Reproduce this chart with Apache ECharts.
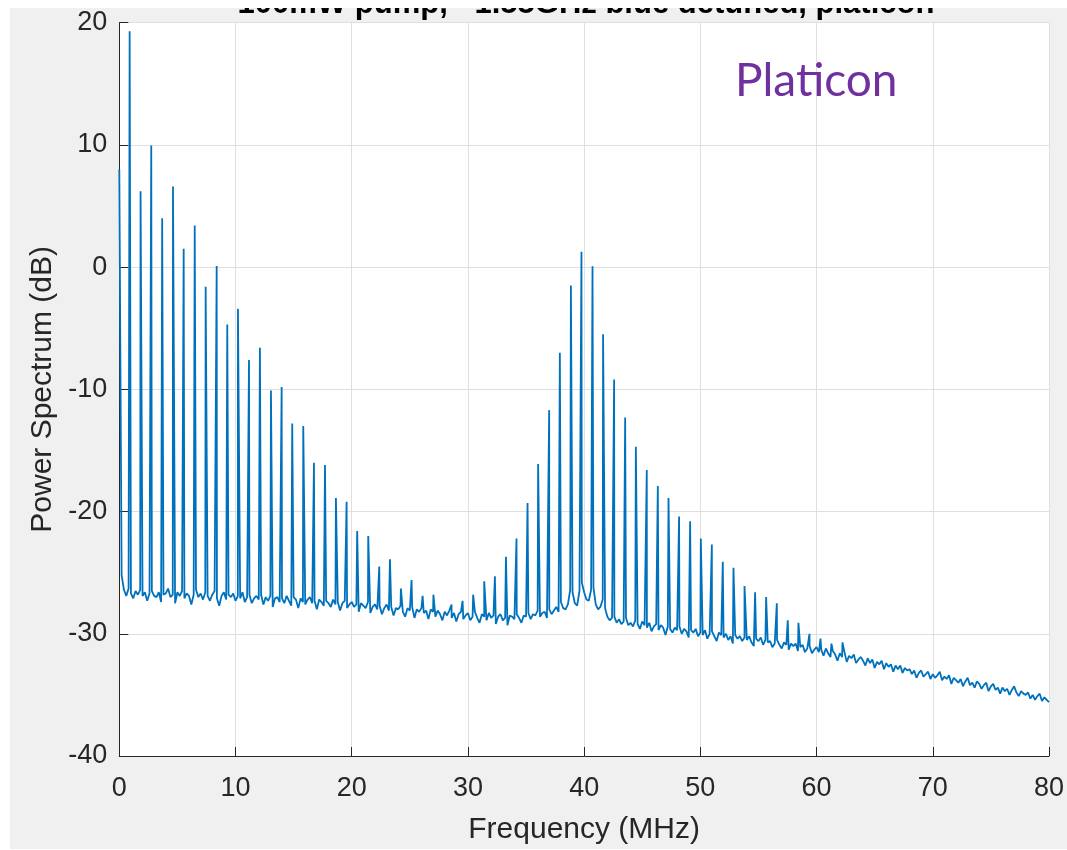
<!DOCTYPE html>
<html>
<head>
<meta charset="utf-8">
<title>Power Spectrum</title>
<script src="https://cdn.jsdelivr.net/npm/echarts@6/dist/echarts.min.js"></script>
<style>
  html, body { margin: 0; padding: 0; background: #ffffff; }
  #chart { width: 1067px; height: 850px; }
</style>
</head>
<body>
<div id="chart"></div>
<script>
// Frequency axis ticks (MHz) and power axis ticks (dB)
const freqTicks = [0, 10, 20, 30, 40, 50, 60, 70, 80];
const powerTicks = [-40, -30, -20, -10, 0, 10, 20];

// Noise floor sampled every 0.2 MHz from 0 to 80 MHz (dB)
const floorStep = 0.2;
const noiseFloor = [
  8.0, -25.2, -26.4, -26.9, -26.3, -26.7, -27.1, -26.5, -26.8, -26.4,
  -26.9, -26.6, -27.3, -26.7, -26.5, -26.9, -27.0, -26.6, -27.4, -26.8,
  -26.7, -26.3, -27.0, -26.8, -27.5, -26.6, -26.9, -26.5, -27.1, -26.7,
  -26.9, -27.6, -26.8, -26.4, -27.0, -26.7, -27.2, -26.6, -26.9, -27.3,
  -26.8, -26.5, -27.1, -27.7, -26.9, -26.6, -27.2, -26.8, -27.0, -26.7,
  -27.3, -26.9, -27.1, -26.6, -27.4, -27.0, -26.8, -27.5, -27.1, -26.9,
  -27.2, -26.8, -27.6, -27.0, -27.3, -26.9, -27.8, -27.1, -27.0, -27.4,
  -27.1, -27.5, -26.9, -27.3, -27.7, -27.0, -27.2, -27.9, -27.1, -27.4,
  -27.6, -27.2, -27.0, -27.5, -27.3, -28.0, -27.2, -27.4, -27.7, -27.3,
  -27.5, -27.8, -27.2, -27.6, -27.4, -28.1, -27.5, -27.3, -27.9, -27.6,
  -27.4, -27.8, -27.6, -28.2, -27.5, -27.7, -27.9, -27.4, -28.3, -27.8,
  -27.6, -28.0, -27.7, -28.4, -27.9, -27.6, -28.1, -27.8, -28.5, -27.9,
  -28.0, -27.7, -28.2, -28.6, -27.9, -28.1, -27.8, -28.7, -28.0, -28.2,
  -27.9, -28.3, -28.1, -28.8, -28.0, -28.2, -28.6, -28.1, -28.4, -28.9,
  -28.2, -28.5, -28.1, -28.7, -28.3, -29.0, -28.4, -28.2, -28.8, -28.5,
  -28.3, -28.9, -28.6, -28.2, -28.7, -29.1, -28.4, -28.6, -28.9, -28.3,
  -28.7, -28.5, -29.2, -28.6, -28.4, -28.9, -28.7, -29.3, -28.5, -28.6,
  -28.8, -28.4, -28.7, -29.1, -28.5, -28.6, -28.3, -28.8, -28.4, -28.5,
  -28.1, -28.6, -28.3, -28.2, -28.7, -28.0, -28.4, -28.1, -27.8, -28.2,
  -27.4, -27.9, -28.0, -27.6, -26.4, -26.6, -27.5, -27.7, -26.5, -25.8,
  -26.6, -27.2, -27.3, -26.4, -26.2, -27.6, -28.0, -27.8, -27.2, -27.9,
  -28.6, -28.9, -28.7, -28.6, -29.1, -28.8, -29.2, -29.0, -28.7, -29.3,
  -29.1, -29.4, -28.9, -29.2, -29.6, -29.0, -29.3, -29.5, -29.1, -29.8,
  -29.4, -29.2, -29.7, -29.3, -29.5, -30.1, -29.4, -29.6, -29.9, -29.5,
  -29.7, -29.4, -30.0, -29.6, -29.8, -30.3, -29.7, -29.9, -29.6, -30.2,
  -29.9, -30.1, -29.7, -30.4, -30.0, -29.8, -30.2, -30.6, -29.9, -30.1,
  -30.3, -30.0, -30.5, -30.2, -30.8, -30.1, -30.4, -30.2, -30.6, -30.3,
  -30.5, -30.2, -30.7, -31.0, -30.4, -30.6, -30.3, -30.9, -30.5, -30.7,
  -30.6, -31.1, -30.8, -30.5, -30.9, -31.2, -30.7, -30.9, -31.3, -30.8,
  -31.0, -30.8, -31.4, -31.1, -30.9, -31.5, -31.2, -31.0, -31.6, -31.3,
  -31.1, -31.5, -31.3, -31.8, -31.2, -31.6, -31.9, -31.4, -31.7, -32.2,
  -31.6, -31.9, -31.5, -32.3, -31.8, -32.0, -31.7, -32.4, -32.1, -31.9,
  -32.2, -32.6, -32.0, -32.4, -32.1, -32.8, -32.3, -32.5, -32.2, -32.9,
  -32.4, -32.7, -32.5, -33.1, -32.6, -32.9, -32.6, -33.2, -32.8, -33.0,
  -32.9, -33.3, -33.0, -33.6, -33.2, -33.0, -33.5, -33.3, -33.1, -33.7,
  -33.3, -33.6, -33.4, -33.1, -33.8, -33.5, -33.7, -33.4, -34.1, -33.6,
  -33.8, -34.0, -33.7, -34.3, -33.9, -33.6, -34.2, -34.0, -34.4, -33.9,
  -34.1, -34.5, -34.2, -34.0, -34.7, -34.3, -34.1, -34.6, -34.4, -34.9,
  -34.4, -34.7, -34.5, -35.0, -34.6, -34.3, -34.8, -35.1, -34.7, -34.9,
  -35.0, -34.8, -35.3, -35.0, -35.4, -35.1, -34.9, -35.5, -35.2, -35.4,
  -35.6
];

// Comb lines near the pump (MHz, dB)
const combLowFreq = [
  0.89, 1.83, 2.75, 3.69, 4.62, 5.54, 6.49, 7.43, 8.38, 9.29,
  10.21, 11.16, 12.10, 13.05, 13.97, 14.88, 15.83, 16.75, 17.70, 18.64,
  19.56, 20.47, 21.42, 22.37, 23.29, 24.23, 25.15, 26.10, 27.03
];
const combLowPower = [
  19.3, 6.2, 9.95, 4.0, 6.6, 1.5, 3.4, -1.6, 0.1, -4.7,
  -3.4, -7.6, -6.6, -10.1, -9.8, -12.8, -13.0, -16.0, -16.2, -18.9,
  -19.2, -21.6, -22.0, -24.5, -23.9, -26.3, -25.6, -26.9, -26.8
];

// Comb lines of the platicon band around 40 MHz (MHz, dB)
const combHighFreq = [
  28.59, 29.54, 30.45, 31.40, 32.32, 33.27, 34.18, 35.13, 36.04, 36.99,
  37.91, 38.86, 39.77, 40.72, 41.63, 42.58, 43.53, 44.45, 45.39, 46.34,
  47.26, 48.17, 49.12, 50.04, 50.99, 51.93, 52.85, 53.80, 54.71, 55.66,
  56.58, 57.52, 58.44, 59.39, 60.34, 61.28, 62.23
];
const combHighPower = [
  -27.6, -27.3, -26.8, -25.7, -25.3, -23.7, -22.2, -19.3, -16.1, -11.7,
  -7.0, -1.5, 1.25, 0.08, -5.5, -9.2, -12.3, -14.7, -16.6, -17.9,
  -18.9, -20.4, -20.8, -22.2, -22.7, -24.1, -24.6, -26.1, -26.6, -27.0,
  -27.5, -28.9, -29.1, -30.0, -30.4, -30.8, -30.7
];

const titleText = '100mW pump, ~1.55GHz blue detuned, platicon';
const annotation = 'Platicon';

// Merge floor samples and comb lines into one ordered trace
const trace = noiseFloor.map((v, i) => [+(i * floorStep).toFixed(2), v]);
combLowFreq.forEach((f, i) => trace.push([f, combLowPower[i]]));
combHighFreq.forEach((f, i) => trace.push([f, combHighPower[i]]));
trace.sort((a, b) => a[0] - b[0]);

const ink = '#262626';
const font = '"Liberation Sans", Arial, Helvetica, sans-serif';

const chart = echarts.init(document.getElementById('chart'), null, { renderer: 'canvas' });
chart.setOption({
  animation: false,
  backgroundColor: '#ffffff',
  grid: {
    left: 119.3, right: 17.7, top: 22.7, bottom: 93.3,
    show: true, backgroundColor: '#ffffff', borderWidth: 0
  },
  graphic: [
    { type: 'rect', z: -10, silent: true, shape: { x: 10, y: 8, width: 1057, height: 841 }, style: { fill: '#f0f0f0' } },
    // title sits partly above the figure edge
    { type: 'text', z: 5, silent: true, x: 586, y: -11,
      style: { text: titleText, font: 'bold 31px ' + font, fill: '#000000', textAlign: 'center', textVerticalAlign: 'top' } },
    { type: 'rect', z: 10, silent: true, shape: { x: 0, y: 0, width: 1067, height: 8 }, style: { fill: '#ffffff' } },
    { type: 'rect', z: 10, silent: true, shape: { x: 0, y: 0, width: 10, height: 850 }, style: { fill: '#ffffff' } },
    { type: 'text', z: 5, silent: true, x: 735, y: 58,
      style: { text: annotation, font: '46px Lato, "Open Sans", sans-serif', fill: '#7030a0', textAlign: 'left', textVerticalAlign: 'top' } }
  ],
  xAxis: {
    type: 'value',
    min: freqTicks[0], max: freqTicks[freqTicks.length - 1], interval: 10,
    name: 'Frequency (MHz)', nameLocation: 'middle', nameGap: 59,
    nameTextStyle: { color: ink, fontSize: 30, fontFamily: font },
    axisLine: { show: true, onZero: false, lineStyle: { color: ink, width: 1 } },
    axisTick: { show: true, inside: true, length: 9, lineStyle: { color: ink, width: 1 } },
    axisLabel: { color: ink, fontSize: 27, fontFamily: font, margin: 19 },
    splitLine: { show: true, lineStyle: { color: '#dfdfdf', width: 1 } }
  },
  yAxis: {
    type: 'value',
    min: powerTicks[0], max: powerTicks[powerTicks.length - 1], interval: 10,
    name: 'Power Spectrum (dB)', nameLocation: 'middle', nameGap: 62,
    nameTextStyle: { color: ink, fontSize: 30, fontFamily: font },
    axisLine: { show: true, onZero: false, lineStyle: { color: ink, width: 1 } },
    axisTick: { show: true, inside: true, length: 9, lineStyle: { color: ink, width: 1 } },
    axisLabel: { color: ink, fontSize: 27, fontFamily: font, margin: 12 },
    splitLine: { show: true, lineStyle: { color: '#dfdfdf', width: 1 } }
  },
  series: [{
    type: 'line',
    data: trace,
    showSymbol: false,
    symbol: 'none',
    clip: true,
    lineStyle: { color: '#0072bd', width: 1.8 },
    emphasis: { disabled: true }
  }]
});
</script>
</body>
</html>
